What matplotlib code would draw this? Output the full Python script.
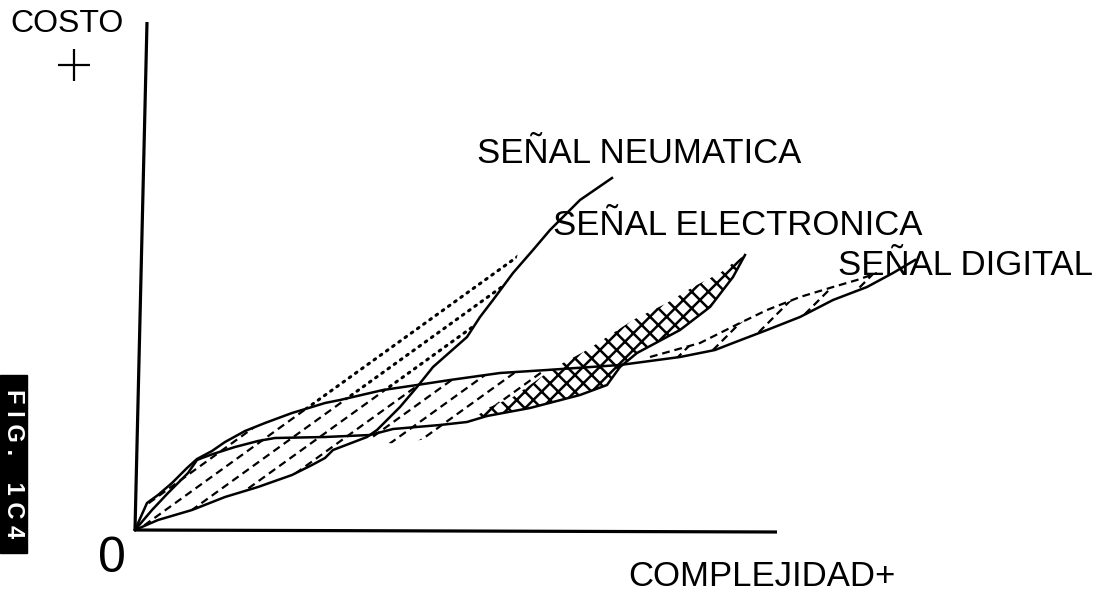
#!/usr/bin/env python3
"""
Costo vs complejidad de las senales (neumatica, electronica, digital) - FIG. 1.C4
"""

import numpy as np
import matplotlib
matplotlib.use("Agg")
import matplotlib.pyplot as plt
from matplotlib.patches import Polygon, Rectangle

plt.rcParams['font.family'] = ['Liberation Sans', 'DejaVu Sans']
plt.rcParams['hatch.linewidth'] = 1.8

# complejidad (x) / costo (y), arbitrary units
# curve A: rises fast, then flat, ends at "SENAL DIGITAL"
A_x = [0, 12, 23, 37, 52, 62, 77, 90, 110, 130, 157, 177, 190, 205, 248, 282,
       315, 365, 412, 485, 545, 580, 598, 632, 665, 698, 732, 758, 780]
A_y = [0, 27, 35, 47, 62, 71, 79, 88, 99, 107, 117, 123, 127, 130, 140, 145,
       150, 157, 160, 165, 173, 180, 187, 200, 213, 230, 243, 257, 270]

# curve B: "SENAL NEUMATICA" (steep)
B_x = [0, 23, 57, 90, 123, 157, 177, 190, 198, 232, 242, 265, 282, 298, 332,
       345, 358, 378, 398, 415, 445, 477]
B_y = [0, 10, 20, 33, 43, 55, 65, 72, 80, 93, 100, 123, 143, 163, 193, 213,
       230, 257, 280, 300, 330, 352]

# curve C: lower edge of "SENAL ELECTRONICA"
C_x = [0, 17, 33, 53, 62, 67, 78, 100, 123, 140, 190, 235, 258, 305, 332, 352,
       395, 445, 472, 485, 502, 545, 575, 598, 610]
C_y = [0, 20, 37, 57, 70, 72, 76, 83, 89, 92, 93, 95, 101, 105, 108, 114, 122,
       135, 145, 163, 177, 200, 223, 253, 275]

# upper edge of the cross-hatched electronica band
E_x = [325, 355, 378, 412, 428, 452, 472, 498, 532, 558, 585, 598, 610]
E_y = [103, 123, 133, 157, 167, 180, 193, 210, 227, 243, 257, 267, 275]

# dashed upper edge of the digital band
D_x = [515, 565, 605, 632, 665, 698, 722, 742]
D_y = [173, 187, 207, 220, 233, 243, 250, 257]

# axes as drawn (y axis slightly tilted)
yaxis_x, yaxis_y = [0, 12], [0, 508]
xaxis_x, xaxis_y = [0, 642], [0, -2]

labels = ["SEÑAL NEUMATICA", "SEÑAL ELECTRONICA", "SEÑAL DIGITAL"]
label_pos = [(342, 367), (418, 295), (703, 255)]


def hatch_lines(ax, poly, slope, offsets, **kw):
    """Parallel lines y = slope*x + c clipped to a polygon."""
    clip = Polygon(poly, closed=True, transform=ax.transData)
    xs = np.array([-200.0, 1000.0])
    for c in offsets:
        ln, = ax.plot(xs, slope * xs + c, color='black', **kw)
        ln.set_clip_path(clip)


def plot_costo():
    fig = plt.figure(figsize=(11.03, 5.91), dpi=100)
    ax = fig.add_axes([0, 0, 1, 1])
    ax.axis('off')

    # axes
    ax.plot(yaxis_x, yaxis_y, color='black', lw=2.3, solid_capstyle='butt')
    ax.plot(xaxis_x, xaxis_y, color='black', lw=2.3, solid_capstyle='butt')

    # solid curves
    for xs, ys in [(A_x, A_y), (B_x, B_y), (C_x, C_y)]:
        ax.plot(xs, ys, color='black', lw=1.8)

    # cross-hatched electronica band
    band = list(zip(E_x, E_y)) + list(zip(C_x[14:], C_y[14:]))[::-1]
    ax.add_patch(Polygon(band, closed=True, facecolor='none', edgecolor='black',
                         lw=0, hatch='xx'))

    # dashed hatch between A and B/C
    lower = [(300, 93), (265, 86), (240, 88)]
    reg1 = (list(zip(A_x[:19], A_y[:19])) + list(zip(E_x[:4], E_y[:4]))[::-1]
            + lower + list(zip(B_x[:10], B_y[:10]))[::-1])
    offsets = np.arange(36, -160, -19.0)
    hatch_lines(ax, reg1, 0.72, offsets, lw=1.6, linestyle=(0, (3.5, 2.2)))

    # dotted continuation above A, left of B
    reg2 = (list(zip(A_x[10:16], A_y[10:16])) + list(zip(B_x[13:18], B_y[13:18]))
            + [(385, 285), (157, 121)])
    hatch_lines(ax, reg2, 0.72, offsets, lw=2.2, linestyle=(0, (0.6, 1.9)),
                dash_capstyle='round')

    # digital band: dashed edge + short hatch strokes
    ax.plot(D_x, D_y, color='black', lw=1.6, linestyle=(0, (3.5, 2.2)))
    reg3 = list(zip(A_x[20:], A_y[20:])) + list(zip(D_x, D_y))[::-1]
    hatch_lines(ax, reg3, 1.0, np.arange(-370, -500, -28.0), lw=1.6,
                linestyle=(0, (3.5, 2.2)))

    # labels
    for txt, (x, y) in zip(labels, label_pos):
        ax.text(x, y, txt, fontsize=25, ha='left', va='baseline')
    ax.text(-68, 506, "COSTO", fontsize=23, ha='center', va='center')
    ax.plot([-61], [465], marker='+', markersize=23, mew=1.6, color='black')
    ax.text(493, -56, "COMPLEJIDAD+", fontsize=25, ha='left', va='baseline')
    ax.text(-23, -42, "0", fontsize=36, ha='center', va='baseline')

    # black figure tag on the left margin
    ax.add_patch(Rectangle((-135, -23), 27, 178, color='black'))
    ax.text(-121.5, 66, "F I G .    1 C 4", fontsize=17, color='white',
            fontweight='bold', rotation=-90, ha='center', va='center')

    ax.set_xlim(-135, 968)
    ax.set_ylim(-61, 530)

    plt.savefig("out.png", dpi=100, facecolor='white')
    plt.close()


if __name__ == "__main__":
    plot_costo()
